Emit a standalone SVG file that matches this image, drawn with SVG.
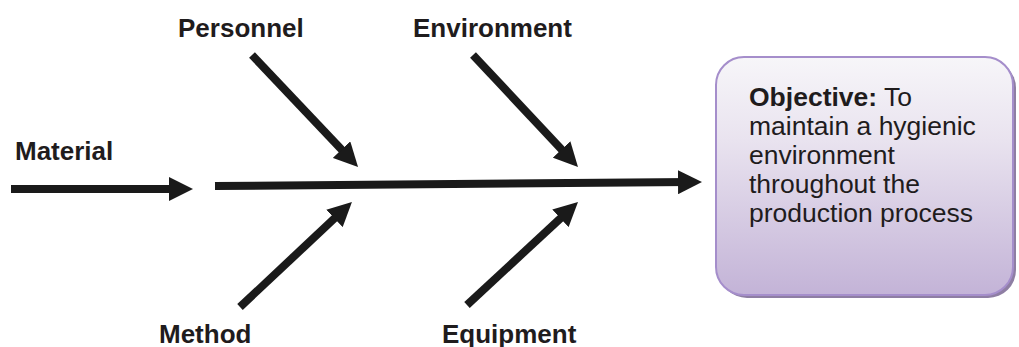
<svg xmlns="http://www.w3.org/2000/svg" width="1019" height="347" viewBox="0 0 1019 347">
  <style>
    .lbl { font-family: "Liberation Sans", Arial, sans-serif; font-size: 26px; font-weight: bold; fill: #1f1c1d; }
    .obj { font-family: "Liberation Sans", Arial, sans-serif; font-size: 26.5px; fill: #1f1c1d; }
    .arrow { stroke: #1a1a1a; stroke-width: 8; fill: none; marker-end: url(#head); }
  </style>
  <defs>
    <marker id="head" markerUnits="userSpaceOnUse" markerWidth="24" markerHeight="24" refX="12" refY="12" orient="auto" viewBox="0 0 24 24">
      <path d="M0,0 L24,12 L0,24 z" fill="#1a1a1a"/>
    </marker>
    <linearGradient id="boxg" x1="0" y1="0" x2="0" y2="1">
      <stop offset="0" stop-color="#f7f6f9"/>
      <stop offset="0.35" stop-color="#e9e3ef"/>
      <stop offset="1" stop-color="#c3b3d7"/>
    </linearGradient>
  </defs>
  <rect width="1019" height="347" fill="#ffffff"/>

  <g id="connectors">
    <line class="arrow" x1="11" y1="189" x2="181" y2="189"/>
    <line class="arrow" x1="215" y1="186" x2="690" y2="182.1"/>
    <line class="arrow" x1="252" y1="55" x2="349.8" y2="158.3"/>
    <line class="arrow" x1="473" y1="55" x2="569.8" y2="158.2"/>
    <line class="arrow" x1="240" y1="307" x2="343.2" y2="210.2"/>
    <line class="arrow" x1="467" y1="305" x2="569.2" y2="210.2"/>
  </g>

  <g id="material"><text class="lbl" x="15" y="160">Material</text></g>
  <g id="personnel"><text class="lbl" x="178" y="37">Personnel</text></g>
  <g id="environment"><text class="lbl" x="413" y="37">Environment</text></g>
  <g id="method"><text class="lbl" x="159" y="343">Method</text></g>
  <g id="equipment"><text class="lbl" x="442" y="343">Equipment</text></g>

  <g id="objective">
    <rect x="719" y="60" width="297" height="238" rx="28" fill="#8e7ea3"/>
    <rect x="716" y="57" width="297" height="238" rx="28" fill="url(#boxg)" stroke="#a58ecb" stroke-width="2"/>
    <text class="obj" x="749" y="106"><tspan font-weight="bold">Objective:</tspan> To</text>
    <text class="obj" x="749" y="135">maintain a hygienic</text>
    <text class="obj" x="749" y="164">environment</text>
    <text class="obj" x="749" y="193">throughout the</text>
    <text class="obj" x="749" y="222">production process</text>
  </g>
</svg>
